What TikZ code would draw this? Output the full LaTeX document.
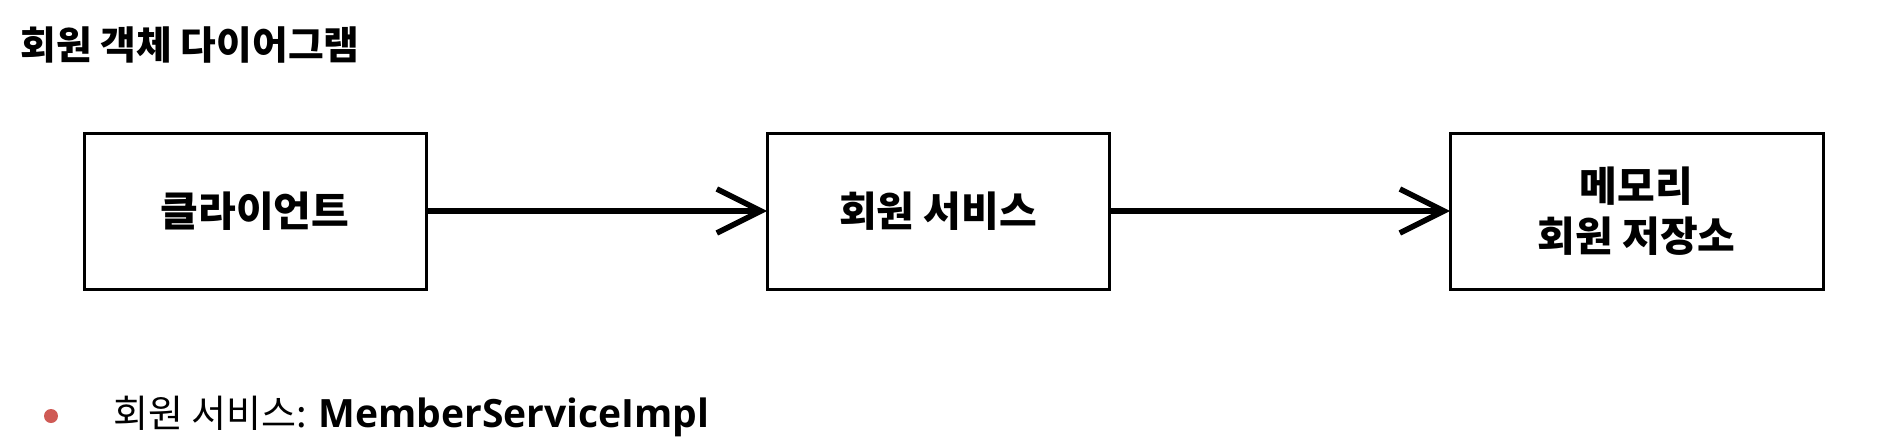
\documentclass[tikz,border=0pt]{standalone}
\usepackage{fontspec}
\setmainfont{Noto Sans CJK KR}
\newfontfamily\latinsans{Open Sans}
\usetikzlibrary{arrows.meta,positioning}
\definecolor{dotred}{HTML}{CF5A55}

\begin{document}
\begin{tikzpicture}[x=0.5pt, y=-0.5pt,
  b/.style={draw, line width=1.5pt, align=center, outer sep=0pt, inner sep=0pt, minimum width=171pt, minimum height=78pt, font=\fontsize{20.5pt}{25pt}\selectfont\bfseries},
  arr/.style={-{Straight Barb[length=22pt, width=22pt]}, line width=2.75pt},
  node distance=170.5pt]
\useasboundingbox (0,0) rectangle (1898,444);
% title
\node[anchor=west, inner sep=0pt, font=\fontsize{19.4pt}{23pt}\selectfont\bfseries] (title) at (20,45) {회원 객체 다이어그램};
% boxes
\node[b] (cl) at (255,211) {클라이언트};
\node[b, right=of cl] (svc) {회원 서비스};
\node[b, right=of svc, minimum width=186.5pt] (repo) {메모리\\회원 저장소};
\draw[arr] (cl) -- (svc); \draw[arr] (svc) -- (repo);
% note
\node[circle, fill=dotred, minimum size=7pt, inner sep=0pt] (dot) at (51,416) {};
\node[anchor=west, inner sep=0pt, font=\fontsize{19pt}{22pt}\selectfont] (note) at (113,416) {회원 서비스: {\latinsans\fontsize{19.5pt}{22pt}\selectfont\bfseries MemberServiceImpl}};
\end{tikzpicture}
\end{document}
